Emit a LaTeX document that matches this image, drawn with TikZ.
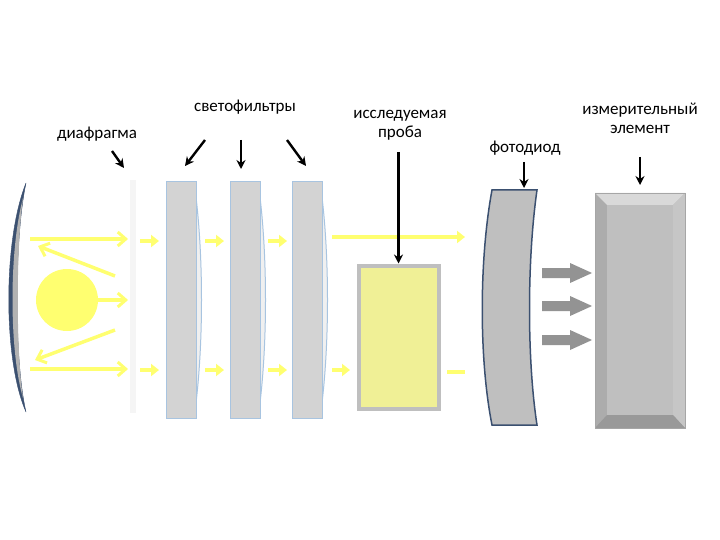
\documentclass[tikz,border=0pt]{standalone}
\usepackage{fontspec}
\setmainfont{Carlito}
\usetikzlibrary{arrows.meta}
\definecolor{ylw}{HTML}{FFFF70}
\definecolor{filt}{HTML}{D3D3D3}
\definecolor{fedge}{HTML}{A8C4E0}
\definecolor{dblue}{HTML}{3B5070}
\tikzset{
 lbl/.style={font=\fontsize{17}{19}\selectfont, align=center},
 ptr/.style={-{Stealth[length=9pt,width=9pt]}, line width=2.4pt, black},
 ray/.style={ylw, line width=3.5pt, -{Straight Barb[length=8pt,width=14pt,line width=3pt]}},
 sray/.style={ylw, line width=3.5pt, -{Triangle[length=8pt,width=12pt]}},
 filter/.style={fill=filt, draw=fedge, line width=1pt},
 garrow/.style={fill=gray!85}
}
\begin{document}
\begin{tikzpicture}[x=1pt,y=-1pt]
\useasboundingbox (0,0) rectangle (720,540);
% mirror
\path[fill=dblue, draw=dblue] (26,183) .. controls (3,240) and (3,360) .. (26,412) .. controls (14,360) and (14,240) .. cycle;
\path[fill=gray!60] (23,198) .. controls (9,250) and (9,350) .. (23,398) .. controls (16,350) and (16,250) .. cycle;
% diaphragm
\fill[gray!8] (130,180) rectangle (136,413);
% sun
\node[circle, fill=ylw, minimum size=62pt, inner sep=0pt] (sun) at (67,300) {};
% rays
\draw[ray] (30,239) -- (128,239);
\draw[ray] (115,276) -- (38,246);
\draw[ray] (98,300) -- (128,300);
\draw[ray] (115,330) -- (35,360);
\draw[ray] (30,369) -- (128,369);
\foreach \x in {140,205,268} {
 \draw[sray] (\x,241) -- (\x+19,241);
 \draw[sray] (\x,370) -- (\x+19,370);
}
\draw[sray] (332,237) -- (465,237);
\draw[sray] (332,370) -- (350,370);
\draw[ylw, line width=3.5pt] (447,372) -- (465,372);
% filters
\foreach \x in {166,230,292} {
 \path[fill=gray!12, draw=fedge, line width=1pt] (\x+28,182) .. controls (\x+38,250) and (\x+38,350) .. (\x+28,418) -- cycle;
 \draw[filter] (\x,182) rectangle (\x+30,418);
}
% sample
\node[draw=gray!50, line width=4pt, fill={rgb,255:red,240;green,240;blue,150}, minimum width=80pt, minimum height=143pt, inner sep=0pt] (sample) at (398.5,337) {};
% photodiode
\path[fill=gray!50, draw=dblue, line width=1.5pt] (492,190) -- (537,190) .. controls (527,260) and (527,360) .. (537,425) -- (492,425) .. controls (479,360) and (479,260) .. (492,190) -- cycle;
% gray arrows
\foreach \y in {273,306,340}
 \fill[garrow] (542,\y-5) -- (570,\y-5) -- (570,\y-10) -- (592,\y) -- (570,\y+10) -- (570,\y+5) -- (542,\y+5) -- cycle;
% measuring element
\fill[gray!65] (595,193) rectangle (685,428);
\fill[gray!30] (595,193) -- (685,193) -- (673,205) -- (607,205) -- cycle;
\fill[gray!45] (685,193) -- (685,428) -- (673,415) -- (673,205) -- cycle;
\fill[gray!80] (595,428) -- (685,428) -- (673,415) -- (607,415) -- cycle;
\fill[gray!50] (607,205) rectangle (673,415);
\draw[gray!70, line width=0.8pt] (595,193) rectangle (685,428);
% labels
\node[lbl] (l1) at (97,134) {диафрагма};
\node[lbl] (l2) at (245,107) {светофильтры};
\node[lbl] (l3) at (400,125) {исследуемая\\проба};
\node[lbl] (l4) at (525,148) {фотодиод};
\node[lbl] (l5) at (640,118) {измерительный\\элемент};
\draw[ptr] (112,151) -- (124,168);
\draw[ptr] (205,140) -- (185,166);
\draw[ptr] (241,140) -- (241,169);
\draw[ptr] (287,140) -- (306,166);
\draw[ptr] (sample.north |- 0,152) -- (sample.north);
\draw[ptr] (524,162) -- (524,188);
\draw[ptr] (640,157) -- (640,185);
\end{tikzpicture}
\end{document}
